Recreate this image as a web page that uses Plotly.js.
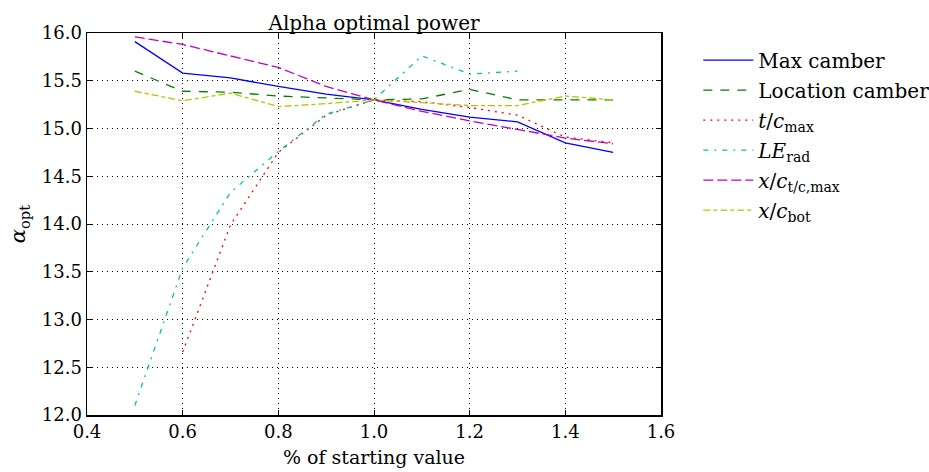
<!DOCTYPE html>
<html>
<head>
<meta charset="utf-8">
<script src="https://cdn.plot.ly/plotly-3.0.1.min.js"></script>
<style>
  html, body { margin: 0; padding: 0; background: #fff; }
  #chart { width: 929px; height: 472px; }
</style>
</head>
<body>
<div id="chart"></div>
<script>
// Fraction of the starting value of each design parameter
const scale = [0.5, 0.6, 0.7, 0.8, 0.9, 1.0, 1.1, 1.2, 1.3, 1.4, 1.5];

// Optimal angle of attack for each parameter sweep
const maxCamber      = [15.91, 15.58, 15.53, 15.44, 15.36, 15.30, 15.20, 15.12, 15.07, 14.85, 14.75];
const locationCamber = [15.60, 15.39, 15.38, 15.34, 15.32, 15.30, 15.31, 15.41, 15.30, 15.30, 15.30];
const tcMax          = [null, 12.66, 13.99, 14.75, 15.14, 15.30, 15.28, 15.22, 15.14, 14.91, 14.85];
const leRad          = [12.10, 13.54, 14.33, 14.76, 15.15, 15.30, 15.76, 15.57, 15.60, null, null];
const xcTcMax        = [15.96, 15.88, 15.76, 15.64, 15.44, 15.30, 15.18, 15.08, 14.99, 14.90, 14.84];
const xcBot          = [15.39, 15.29, 15.37, 15.23, 15.26, 15.30, 15.27, 15.24, 15.24, 15.34, 15.30];

const seriesNames = [
  'Max camber',
  'Location camber',
  '<i>t</i>/<i>c</i><sub>max</sub>',
  '<i>LE</i><sub>rad</sub>',
  '<i>x</i>/<i>c</i><sub>t/c,max</sub>',
  '<i>x</i>/<i>c</i><sub>bot</sub>'
];
const seriesValues = [maxCamber, locationCamber, tcMax, leRad, xcTcMax, xcBot];
const seriesColors = ['#0000ff', '#008000', '#ff0000', '#00bfbf', '#bf00bf', '#bfbf00'];
const seriesDashes = ['solid', '9px,8px', '2px,5px', '5px,6px,2px,6px', '10px,4px', '7px,3px,4px,3px'];

const traces = seriesValues.map((vals, i) => ({
  x: scale,
  y: vals,
  type: 'scatter',
  mode: 'lines',
  name: seriesNames[i],
  legendgroup: 'g' + i,
  connectgaps: false,
  line: { color: seriesColors[i], width: 1.3, dash: seriesDashes[i] }
}));

const FONT = 'DejaVu Serif';

const axisCommon = {
  showline: true,
  linecolor: '#000',
  linewidth: 1.5,
  mirror: 'allticks',
  ticks: 'inside',
  ticklen: 5,
  tickwidth: 1,
  tickcolor: '#000',
  showgrid: true,
  gridcolor: '#000',
  gridwidth: 1,
  griddash: '1px,4px',
  zeroline: false,
  tickfont: { family: FONT, size: 18, color: '#000' }
};

const layout = {
  width: 929,
  height: 472,
  paper_bgcolor: '#fff',
  plot_bgcolor: '#fff',
  margin: { l: 87, r: 268, t: 33, b: 57, autoexpand: false },
  font: { family: FONT, color: '#000' },
  title: {
    text: 'Alpha optimal power',
    font: { family: FONT, size: 20, color: '#000' },
    xref: 'paper', x: 0.5, xanchor: 'center',
    yref: 'paper', y: 1, yanchor: 'bottom',
    pad: { b: 3 }
  },
  xaxis: Object.assign({}, axisCommon, {
    range: [0.4, 1.6],
    dtick: 0.2,
    tick0: 0.4,
    tickformat: '.1f',
    title: { text: '% of starting value', font: { family: FONT, size: 19, color: '#000' }, standoff: 9 }
  }),
  yaxis: Object.assign({}, axisCommon, {
    range: [12.0, 16.0],
    dtick: 0.5,
    tick0: 12,
    tickformat: '.1f',
    title: { text: '<i>α</i><sub>opt</sub>', font: { family: FONT, size: 21, color: '#000' }, standoff: 10 }
  }),
  showlegend: true,
  legend: {
    x: 1.065,
    xanchor: 'left',
    y: 0.98,
    yanchor: 'top',
    bgcolor: 'rgba(0,0,0,0)',
    borderwidth: 0,
    itemwidth: 50,
    font: { family: FONT, size: 20, color: '#000' },
    tracegroupgap: 1
  }
};

Plotly.newPlot('chart', traces, layout, { displayModeBar: false, staticPlot: true });
</script>
</body>
</html>
